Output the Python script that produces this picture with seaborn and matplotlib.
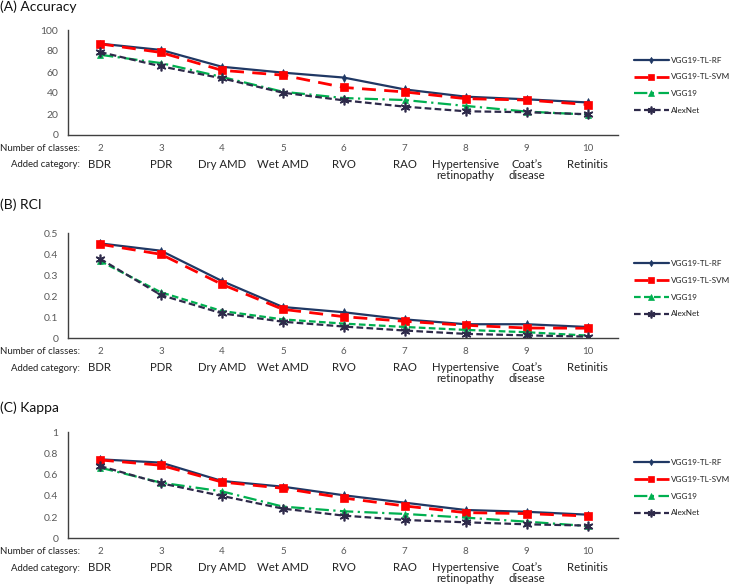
import matplotlib
matplotlib.use("Agg")
import matplotlib.pyplot as plt
import seaborn as sns
import pandas as pd
import numpy as np

sns.set_theme(style="white")
plt.rcParams['font.family'] = ['Lato', 'DejaVu Sans']

num_classes = [2, 3, 4, 5, 6, 7, 8, 9, 10]
categories = ["BDR", "PDR", "Dry AMD", "Wet AMD", "RVO", "RAO",
              "Hypertensive\nretinopathy", "Coat\u2019s\ndisease", "Retinitis"]
models = ["VGG19-TL-RF", "VGG19-TL-SVM", "VGG19", "AlexNet"]

acc_rf = [87, 81, 65, 59.4, 54.7, 43.4, 36.5, 34, 31]
acc_svm = [86.8, 78.6, 61.6, 57, 45.3, 41, 34.6, 33.3, 29]
acc_vgg = [76.4, 68.5, 55.3, 41.2, 35.2, 33.3, 27.7, 22.3, 19.5]
acc_alex = [79, 65.4, 54, 40.3, 33, 27, 22.6, 21.7, 19.8]

rci_rf = [0.452, 0.417, 0.273, 0.149, 0.124, 0.090, 0.067, 0.067, 0.054]
rci_svm = [0.448, 0.400, 0.257, 0.138, 0.103, 0.081, 0.062, 0.049, 0.048]
rci_vgg = [0.368, 0.219, 0.130, 0.090, 0.070, 0.054, 0.040, 0.029, 0.013]
rci_alex = [0.379, 0.206, 0.119, 0.079, 0.056, 0.037, 0.021, 0.014, 0.008]

kap_rf = [0.745, 0.714, 0.541, 0.487, 0.406, 0.336, 0.267, 0.250, 0.223]
kap_svm = [0.739, 0.689, 0.531, 0.472, 0.380, 0.305, 0.242, 0.233, 0.210]
kap_vgg = [0.667, 0.525, 0.443, 0.299, 0.255, 0.230, 0.195, 0.157, 0.116]
kap_alex = [0.682, 0.519, 0.400, 0.280, 0.214, 0.173, 0.151, 0.132, 0.120]

panels = [
    ("(A) Accuracy", [acc_rf, acc_svm, acc_vgg, acc_alex], (0, 100), [0, 20, 40, 60, 80, 100],
     ["0", "20", "40", "60", "80", "100"], "dashdot"),
    ("(B) RCI", [rci_rf, rci_svm, rci_vgg, rci_alex], (0, 0.5), [0, 0.1, 0.2, 0.3, 0.4, 0.5],
     ["0", "0.1", "0.2", "0.3", "0.4", "0.5"], "dashed"),
    ("(C) Kappa", [kap_rf, kap_svm, kap_vgg, kap_alex], (0, 1), [0, 0.2, 0.4, 0.6, 0.8, 1],
     ["0", "0.2", "0.4", "0.6", "0.8", "1"], "dashdot"),
]

colors = ["#203864", "#FF0000", "#00B050", "#2E2A4A"]
markers = ["d", "s", "^", (6, 2, 0)]
msizes = [4, 6, 5, 7]

W, H = 732, 584
fig = plt.figure(figsize=(W / 100, H / 100), dpi=100)

axes_px = [(30, 135), (233.3, 338.3), (432.3, 538.3)]
title_y = [7, 205, 408]
left_px, right_px = 68, 618
tick_col = "#595959"

for (title, series, ylim, yt, ytl, vgg_ls), (top, bot), ty in zip(panels, axes_px, title_y):
    ax = fig.add_axes([left_px / W, 1 - bot / H, (right_px - left_px) / W, (bot - top) / H])
    styles = ["-", (0, (5, 3)), (0, (6, 2, 1, 2)), (0, (3, 1.5))]
    if vgg_ls == "dashed":
        styles[2] = (0, (3, 1.5))
    for name, vals, c, m, ms, ls in zip(models, series, colors, markers, msizes, styles):
        df = pd.DataFrame({"n": num_classes, "v": vals})
        sns.lineplot(data=df, x="n", y="v", ax=ax, color=c, marker=m, markersize=ms,
                     linestyle=ls, linewidth=1.6 if name != "VGG19-TL-SVM" else 2.0,
                     markeredgecolor=c, markeredgewidth=1.2 if m == (6, 2, 0) else 0.5,
                     label=name, legend=False)
    ax.set_xlim(1.475, 10.5)
    ax.set_ylim(*ylim)
    ax.set_yticks(yt)
    ax.set_yticklabels(ytl, fontsize=7.5, color=tick_col)
    ax.set_xticks(num_classes)
    ax.set_xticklabels([str(n) for n in num_classes], fontsize=7, color=tick_col)
    ax.set_xlabel("")
    ax.set_ylabel("")
    for s in ["top", "right"]:
        ax.spines[s].set_visible(False)
    for s in ["left", "bottom"]:
        ax.spines[s].set_color("#404040")
        ax.spines[s].set_linewidth(1.0)
    ax.tick_params(axis="both", direction="out", length=4, width=1.0, color="#404040", pad=3)
    ax.tick_params(axis="x", pad=2.5)
    # category labels
    for n, cat in zip(num_classes, categories):
        ax.annotate(cat, xy=(n, 0), xycoords=("data", "axes fraction"), xytext=(0, -17.2),
                    textcoords="offset points", ha="center", va="top", fontsize=8.2,
                    color="#222222", linespacing=1.0)
    ax.annotate("Number of classes:", xy=(0, 0), xycoords="axes fraction", xytext=(8.6, -9.5),
                textcoords="offset points", ha="right", va="center", fontsize=6.9, color="#222222")
    ax.annotate("Added category:", xy=(0, 0), xycoords="axes fraction", xytext=(8.6, -21.5),
                textcoords="offset points", ha="right", va="center", fontsize=6.9, color="#222222")
    fig.text(0 / W, 1 - ty / H, title, fontsize=10, ha="left", va="center", color="#111111")
    h, l = ax.get_legend_handles_labels()
    ax.legend(h, l, loc="upper left", bbox_to_anchor=(630 / W, 1 - (top + 22.5) / H),
              bbox_transform=fig.transFigure, frameon=False, fontsize=5.9,
              handlelength=4.2, handletextpad=0.25, labelspacing=1.2, markerscale=0.8,
              borderpad=0, labelcolor="#222222")

fig.savefig("out.png", dpi=100)
